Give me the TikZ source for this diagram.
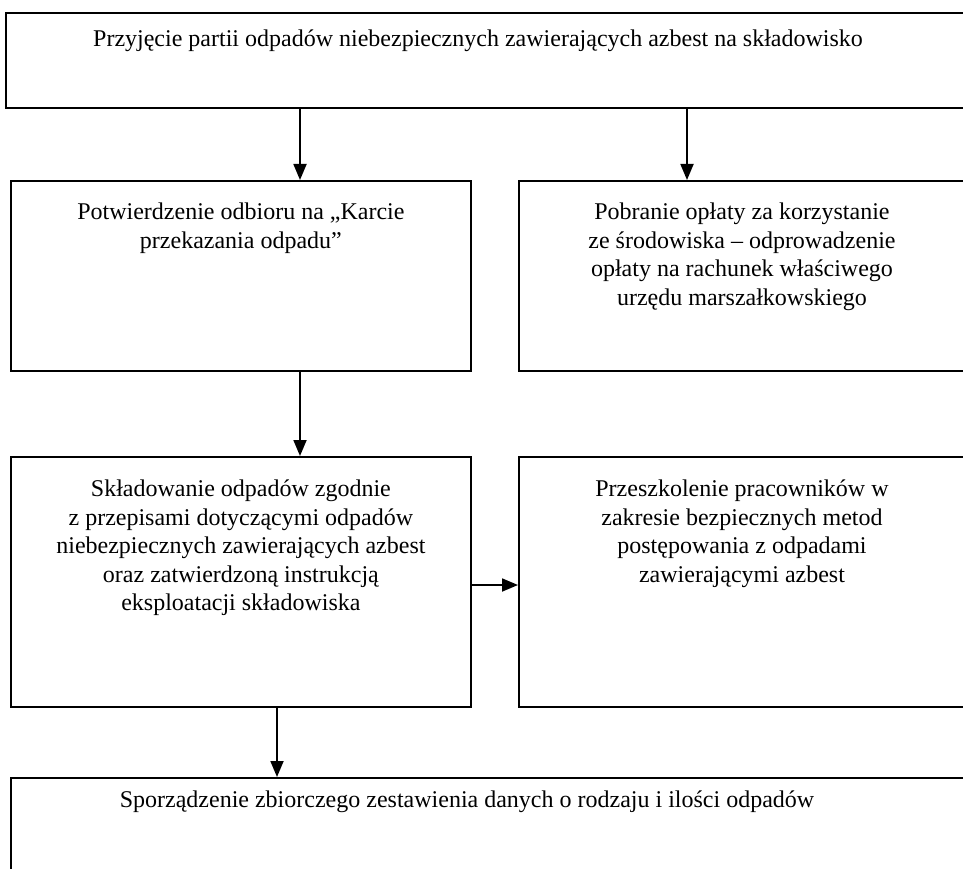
\documentclass[tikz,border=0pt]{standalone}
\usepackage{fontspec}
\setmainfont{Liberation Serif}
\usetikzlibrary{arrows.meta}

\begin{document}
\begin{tikzpicture}[
        x=1pt, y=-1pt,
        box/.style={draw, line width=1.8pt, anchor=north west, inner sep=0pt},
        txt/.style={anchor=north, inner sep=0pt, align=center, font=\fontsize{24}{28.5}\selectfont},
        arrow/.style={line width=1.8pt, -{Triangle[width=13pt,length=16pt]}}
    ]
        \useasboundingbox (0,0) rectangle (963,869);
        \clip (0,0) rectangle (963,869);

        % Row 1: acceptance of the batch
        \node[box, minimum width=990, minimum height=95] (accept) at (5,12) {};
        \node[txt] (accept_text) at ([xshift=473pt,yshift=-18pt]accept.north west)
            {Przyjęcie partii odpadów niebezpiecznych zawierających azbest na składowisko};

        % Row 2: confirmation and fee
        \node[box, minimum width=460, minimum height=190] (confirm) at (10,180) {};
        \node[txt] (confirm_text) at ([yshift=-23pt]confirm.north)
            {Potwierdzenie odbioru na „Karcie\\ przekazania odpadu”};
        \node[box, minimum width=480, minimum height=190] (fee) at (518,180) {};
        \node[txt] (fee_text) at ([xshift=224pt,yshift=-23pt]fee.north west)
            {Pobranie opłaty za korzystanie\\ ze środowiska -- odprowadzenie\\ opłaty na rachunek właściwego\\ urzędu marszałkowskiego};

        % Row 3: storage and training
        \node[box, minimum width=460, minimum height=250] (storage) at (10,456) {};
        \node[txt] (storage_text) at ([yshift=-24pt]storage.north)
            {Składowanie odpadów zgodnie\\ z przepisami dotyczącymi odpadów\\ niebezpiecznych zawierających azbest\\ oraz zatwierdzoną instrukcją\\ eksploatacji składowiska};
        \node[box, minimum width=480, minimum height=250] (training) at (518,456) {};
        \node[txt] (training_text) at ([xshift=224pt,yshift=-24pt]training.north west)
            {Przeszkolenie pracowników w\\ zakresie bezpiecznych metod\\ postępowania z odpadami\\ zawierającymi azbest};

        % Row 4: summary
        \node[box, minimum width=990, minimum height=150] (summary) at (10,777) {};
        \node[txt] (summary_text) at ([xshift=457pt,yshift=-14pt]summary.north west)
            {Sporządzenie zbiorczego zestawienia danych o rodzaju i ilości odpadów};

        % Arrows
        \draw[arrow] (accept.south -| 300,0) -- (confirm.north -| 300,0);
        \draw[arrow] (accept.south -| 687,0) -- (fee.north -| 687,0);
        \draw[arrow] (confirm.south -| 300,0) -- (storage.north -| 300,0);
        \draw[arrow] (storage.east |- 0,585) -- (training.west |- 0,585);
        \draw[arrow] (storage.south -| 277,0) -- (summary.north -| 277,0);

    \end{tikzpicture}
\end{document}
